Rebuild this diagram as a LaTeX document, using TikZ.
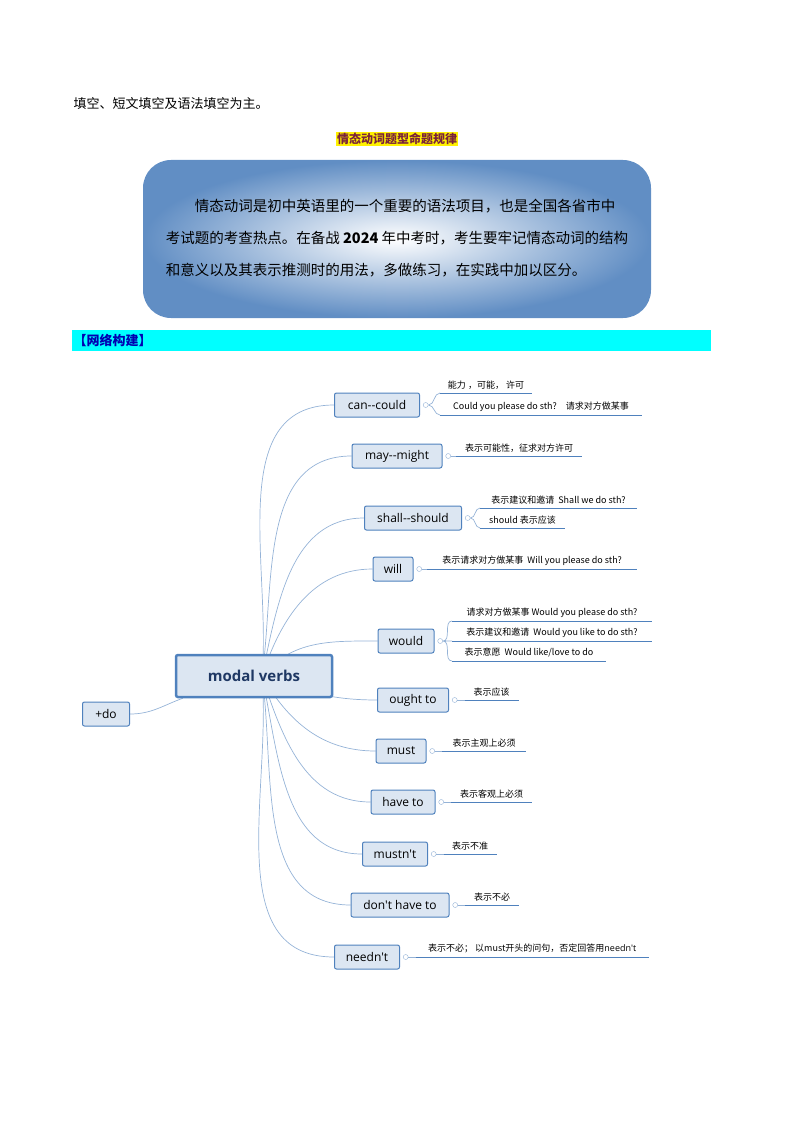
\documentclass[tikz,border=0pt]{standalone}
\usepackage{fontspec}
\setmainfont{Noto Sans CJK SC}
\newfontfamily\latinfont{Open Sans}
\usetikzlibrary{positioning, backgrounds, calc}
\definecolor{nodefill}{HTML}{DCE6F2}
\definecolor{nodeline}{HTML}{4F81BD}
\definecolor{linkline}{HTML}{95B3D7}
\definecolor{titleblue}{HTML}{1F3864}
\definecolor{barcyan}{HTML}{00FFFF}

\begin{document}
\begin{tikzpicture}[ x = 1pt, y = -1pt
                   , font = \fontsize{9}{10}\selectfont
                   , verb/.style = { rectangle
                                   , rounded corners = 2pt
                                   , draw = nodeline
                                   , line width = 1pt
                                   , fill = nodefill
                                   , minimum height = 24pt
                                   , inner xsep = 6pt
                                   , font = \latinfont\fontsize{12}{13}\selectfont }
                   , leaf/.style = { draw = nodeline, line width = 1pt }
                   , knob/.style = { circle, draw = linkline, inner sep = 0pt, minimum size = 5pt, fill = white }
                   , link/.style = { draw = linkline, line width = 0.7pt }
                   ]
  \useasboundingbox (0,0) rectangle (794,1123);

  % heading
  \node[anchor = west, font = \fontsize{13}{14}\selectfont] (intro) at (70,104) {填空、短文填空及语法填空为主。};
  \node[fill = yellow, inner sep = 1pt, font = \bfseries\fontsize{12}{13}\selectfont, text = titleblue!60!red]
    (topic) at (397,139) {情态动词题型命题规律};
  \shade[inner color = white, outer color = nodeline!90, rounded corners = 28pt]
    (143,160) rectangle (651,318);
  \node[align = left, font = \fontsize{14.5}{32}\selectfont] (summary) at (397,238)
    {\hspace*{2em}情态动词是初中英语里的一个重要的语法项目，也是全国各省市中\\
     考试题的考查热点。在备战 \textbf{2024} 年中考时，考生要牢记情态动词的结构\\
     和意义以及其表示推测时的用法，多做练习，在实践中加以区分。};
  \fill[barcyan] (72,330) rectangle (711,351);
  \node[anchor = west, text = blue!70!black, font = \bfseries\fontsize{13}{14}\selectfont] (net) at (70,340.5) {【网络构建】};

  % map
  \node[verb, minimum width = 156pt, minimum height = 42pt, line width = 2.5pt,
        text = titleblue, font = \latinfont\bfseries\fontsize{15}{16}\selectfont] (modal) at (254,676) {modal verbs};
  \node[verb, minimum width = 47pt] (plusdo) at (106,714) {+do};
  \node[verb, minimum width = 85pt] (can) at (377,405) {can--could};
  \node[verb, minimum width = 90pt] (may) at (397,456) {may--might};
  \node[verb, minimum width = 97pt] (shall) at (413,518) {shall--should};
  \node[verb, minimum width = 40pt] (will) at (393,569) {will};
  \node[verb, minimum width = 56pt] (would) at (406,641) {would};
  \node[verb, minimum width = 71pt] (ought) at (413,700) {ought to};
  \node[verb, minimum width = 50pt] (must) at (401,751) {must};
  \node[verb, minimum width = 64pt] (haveto) at (403,802) {have to};
  \node[verb, minimum width = 65pt] (mustnt) at (395,854) {mustn't};
  \node[verb, minimum width = 98pt] (donthave) at (400,905) {don't have to};
  \node[verb, minimum width = 65pt] (neednt) at (367,957) {needn't};

  \coordinate (hub) at (262,676);
  \begin{scope}[on background layer]
    \draw[link] (hub) to[out = 85, in = 180] (can.west);
    \draw[link] (hub) to[out = 82, in = 180] (may.west);
    \draw[link] (hub) to[out = 78, in = 180] (shall.west);
    \draw[link] (hub) to[out = 72, in = 180] (will.west);
    \draw[link] (hub) to[out = 50, in = 180] (would.west);
    \draw[link] (hub) to[out = -20, in = 180] (ought.west);
    \draw[link] (hub) to[out = -60, in = 180] (must.west);
    \draw[link] (hub) to[out = -72, in = 180] (haveto.west);
    \draw[link] (hub) to[out = -78, in = 180] (mustnt.west);
    \draw[link] (hub) to[out = -82, in = 180] (donthave.west);
    \draw[link] (hub) to[out = -85, in = 180] (neednt.west);
    \draw[link] (modal.south west) ++(8,0) coordinate (lefthub) to[out = 200, in = 0] (plusdo.east);
  \end{scope}

  % leaves
  \foreach \v in {can, may, shall, will, would, ought, must, haveto, mustnt, donthave, neednt}
    \node[knob, right = 3pt of \v] (\v-knob) {};

  \coordinate (can-a) at (440,393);
  \coordinate (can-b) at (440,415);
  \draw[link] (can-knob) to[out = 0, in = 180] (can-a) (can-knob) to[out = 0, in = 180] (can-b);
  \draw[leaf] (can-a) -- ++(92,0) node[midway, above] {能力 ，可能， 许可};
  \draw[leaf] (can-b) -- ++(202,0) node[midway, above] {Could you please do sth?\quad 请求对方做某事};

  \draw[link] (may-knob) -- ++(8,0) coordinate (may-a);
  \draw[leaf] (may-a) -- ++(126,0) node[midway, above] {表示可能性，征求对方许可};

  \coordinate (shall-a) at (480,508);
  \coordinate (shall-b) at (480,528);
  \draw[link] (shall-knob) to[out = 0, in = 180] (shall-a) (shall-knob) to[out = 0, in = 180] (shall-b);
  \draw[leaf] (shall-a) -- ++(157,0) node[midway, above] {表示建议和邀请\ \ Shall we do sth?};
  \draw[leaf] (shall-b) -- ++(85,0) node[midway, above] {should 表示应该};

  \draw[link] (will-knob) -- ++(8,0) coordinate (will-a);
  \draw[leaf] (will-a) -- ++(210,0) node[midway, above] {表示请求对方做某事\ \ Will you please do sth?};

  \coordinate (would-a) at (452,621);
  \coordinate (would-b) at (452,641);
  \coordinate (would-c) at (452,661);
  \draw[link] (would-knob) to[out = 0, in = 180] (would-a) (would-knob) -- (would-b)
              (would-knob) to[out = 0, in = 180] (would-c);
  \draw[leaf] (would-a) -- ++(200,0) node[midway, above] {请求对方做某事 Would you please do sth?};
  \draw[leaf] (would-b) -- ++(200,0) node[midway, above] {表示建议和邀请\ \ Would you like to do sth?};
  \draw[leaf] (would-c) -- ++(154,0) node[midway, above] {表示意愿\ \ Would like/love to do};

  \draw[link] (ought-knob) -- ++(10,0) coordinate (ought-a);
  \draw[leaf] (ought-a) -- ++(54,0) node[midway, above] {表示应该};
  \draw[link] (must-knob) -- ++(10,0) coordinate (must-a);
  \draw[leaf] (must-a) -- ++(84,0) node[midway, above] {表示主观上必须};
  \draw[link] (haveto-knob) -- ++(10,0) coordinate (haveto-a);
  \draw[leaf] (haveto-a) -- ++(81,0) node[midway, above] {表示客观上必须};
  \draw[link] (mustnt-knob) -- ++(10,0) coordinate (mustnt-a);
  \draw[leaf] (mustnt-a) -- ++(53,0) node[midway, above] {表示不准};
  \draw[link] (donthave-knob) -- ++(10,0) coordinate (donthave-a);
  \draw[leaf] (donthave-a) -- ++(54,0) node[midway, above] {表示不必};
  \draw[link] (neednt-knob) -- ++(10,0) coordinate (neednt-a);
  \draw[leaf] (neednt-a) -- ++(233,0) node[midway, above] {表示不必； 以must开头的问句，否定回答用{\latinfont needn't}};
\end{tikzpicture}
\end{document}
